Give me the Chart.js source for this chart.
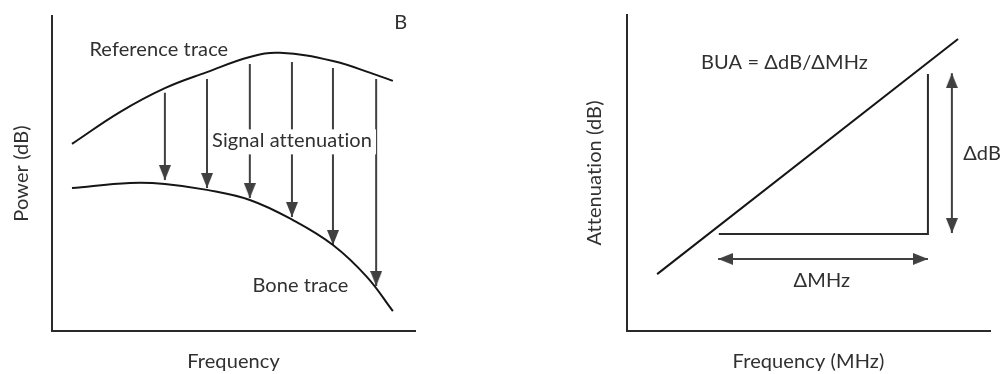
<!DOCTYPE html>
<html>
<head>
<meta charset="utf-8">
<script src="https://cdn.jsdelivr.net/npm/chart.js@4/dist/chart.umd.min.js"></script>
<style>
  html, body { margin: 0; padding: 0; background: #fff; width: 1000px; height: 374px; overflow: hidden; }
  .panel { position: absolute; top: 0; width: 500px; height: 374px; }
  #left { left: 0; }
  #right { left: 500px; }
</style>
</head>
<body>
<div class="panel" id="left"><canvas id="powerChart" width="500" height="374"></canvas></div>
<div class="panel" id="right"><canvas id="buaChart" width="500" height="374"></canvas></div>
<script>
// ---- Panel B: power spectra (arbitrary units, 0-100 on both axes) ----
const referenceFreq  = [5.5, 18.7, 31.1, 42.7, 54.5, 62.8, 77.4, 89.3, 93.9];
const referencePower = [59.4, 69.5, 77.1, 82.2, 87.0, 88.3, 85.7, 81.3, 79.4];
const boneFreq  = [5.5, 21.5, 31.1, 42.7, 54.5, 66.4, 77.4, 86.8, 93.9];
const bonePower = [45.4, 47.0, 46.7, 44.8, 41.6, 35.2, 27.3, 17.1, 6.3];
// attenuation arrows: from the reference trace down to the bone trace
const arrowFreq  = [31.1, 42.7, 54.5, 66.1, 77.4, 89.3];
const arrowStart = [75.6, 80.0, 84.8, 85.4, 83.5, 80.0];
const arrowEnd   = [47.9, 45.4, 42.2, 36.2, 27.3, 14.3];

// ---- Right panel: attenuation vs frequency (arbitrary units) ----
const buaFreq = [8.3, 91.2];
const buaAtten = [18.0, 92.4];
const legFreq = [25.3, 82.9, 82.9];
const legAtten = [30.7, 30.7, 81.3];
const dBArrowFreq = [89.5, 89.5];
const dBArrowAtten = [81.6, 31.0];
const mhzArrowFreq = [25.1, 82.9];
const mhzArrowAtten = [22.8, 22.8];

const FONT = 'Lato, "Liberation Sans", sans-serif';
const FS = 20;
const TEXT = '#303030';
const INK = '#151515';
const ARROW = '#404040';
const AXIS = '#2a2a2a';

// arrowhead sprite: tip sits at the sprite centre, pointing down at rotation 0
function arrowHead(w, h, color) {
  const c = document.createElement('canvas');
  c.width = w; c.height = 2 * h;
  const g = c.getContext('2d');
  g.fillStyle = color;
  g.beginPath();
  g.moveTo(0, 0); g.lineTo(w, 0); g.lineTo(w / 2, h); g.closePath();
  g.fill();
  return c;
}
const HEAD = arrowHead(12, 15, ARROW);

const pts = (xs, ys) => xs.map((x, i) => ({ x, y: ys[i] }));

function curve(xs, ys) {
  return { data: pts(xs, ys), showLine: true, borderColor: INK, borderWidth: 2,
           tension: 0.4, pointRadius: 0, fill: false };
}
function segment(xs, ys, color, width) {
  return { data: pts(xs, ys), showLine: true, borderColor: color, borderWidth: width,
           tension: 0, pointRadius: 0, fill: false };
}
function arrow(xs, ys, rotations, heads) {
  return { data: pts(xs, ys), showLine: true, borderColor: ARROW, borderWidth: 2, tension: 0,
           pointStyle: HEAD, pointRadius: heads.map(h => h ? 6 : 0), pointRotation: rotations,
           pointBackgroundColor: ARROW, pointBorderWidth: 0, fill: false };
}

// plain letter forms (no "ti" ligature) for every label on the canvas
const spacingPlugin = {
  id: 'spacing',
  beforeDraw(chart) { chart.ctx.letterSpacing = '0.1px'; }
};

// text notes placed in data coordinates
const notesPlugin = {
  id: 'notes',
  afterDatasetsDraw(chart, args, opts) {
    const { ctx } = chart;
    const sx = chart.scales.x, sy = chart.scales.y;
    ctx.save();
    ctx.font = FS + 'px ' + FONT;
    ctx.letterSpacing = '0.1px';
    ctx.textBaseline = 'alphabetic';
    for (const n of opts.items || []) {
      const px = sx.getPixelForValue(n.x), py = sy.getPixelForValue(n.y);
      ctx.textAlign = n.align || 'left';
      if (n.knockout) {
        const w = ctx.measureText(n.text).width;
        ctx.fillStyle = '#ffffff';
        ctx.fillRect(px - 4, py - 18, w + 8, 25);
      }
      ctx.fillStyle = TEXT;
      ctx.fillText(n.text, px, py);
    }
    ctx.restore();
  }
};

function axes(xTitle, yTitle, yTitlePad) {
  const title = (text, padding) => ({ display: true, text, color: TEXT,
    font: { family: FONT, size: FS, weight: 'normal' }, padding });
  return {
    x: { type: 'linear', min: 0, max: 100, ticks: { display: false },
         grid: { display: false, drawTicks: false },
         border: { display: true, color: AXIS, width: 2 },
         title: title(xTitle, { top: 19, bottom: 0 }) },
    y: { type: 'linear', min: 0, max: 100, ticks: { display: false },
         grid: { display: false, drawTicks: false },
         border: { display: true, color: AXIS, width: 2 },
         title: title(yTitle, yTitlePad) }
  };
}

function baseOptions(padding, xTitle, yTitle, yTitlePad, notes) {
  return {
    responsive: false, animation: false, devicePixelRatio: 1,
    layout: { padding },
    scales: axes(xTitle, yTitle, yTitlePad),
    plugins: { legend: { display: false }, tooltip: { enabled: false }, notes: { items: notes } }
  };
}

// Panel B
const powerSets = [curve(referenceFreq, referencePower), curve(boneFreq, bonePower)];
arrowFreq.forEach((f, i) => {
  powerSets.push(arrow([f, f], [arrowStart[i], arrowEnd[i]], [0, 0], [false, true]));
});
new Chart(document.getElementById('powerChart'), {
  type: 'scatter',
  data: { datasets: powerSets },
  options: baseOptions({ left: 0, right: 85, top: 16, bottom: 0 }, 'Frequency', 'Power (dB)',
    { top: 10, bottom: 18 },
    [
      { text: 'Reference trace', x: 10.3, y: 87.3 },
      { text: 'Signal attenuation', x: 44.1, y: 58.3, knockout: true },
      { text: 'Bone trace', x: 55.2, y: 12.5 },
      { text: 'B', x: 94.3, y: 95.8 }
    ]),
  plugins: [spacingPlugin, notesPlugin]
});

// Right panel: broadband ultrasound attenuation slope
const buaSets = [
  segment(buaFreq, buaAtten, INK, 2),
  segment(legFreq, legAtten, '#2a2a2a', 2),
  arrow(dBArrowFreq, dBArrowAtten, [180, 0], [true, true]),
  arrow(mhzArrowFreq, mhzArrowAtten, [90, -90], [true, true])
];
new Chart(document.getElementById('buaChart'), {
  type: 'scatter',
  data: { datasets: buaSets },
  options: baseOptions({ left: 73, right: 10, top: 15, bottom: 0 }, 'Frequency (MHz)', 'Attenuation (dB)',
    { top: 10, bottom: 20 },
    [
      { text: 'BUA = \u0394dB/\u0394MHz', x: 20.4, y: 82.9 },
      { text: '\u0394dB', x: 92.6, y: 54.1 },
      { text: '\u0394MHz', x: 53.7, y: 14.0, align: 'center' }
    ]),
  plugins: [spacingPlugin, notesPlugin]
});
</script>
</body>
</html>
